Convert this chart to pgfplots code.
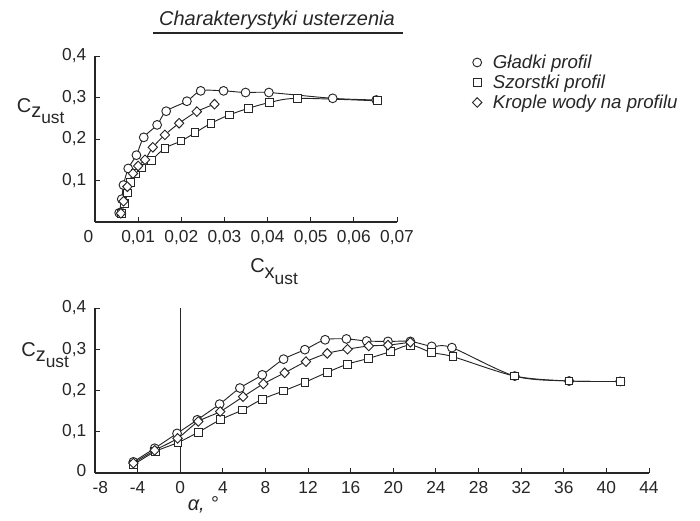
\documentclass[border=0pt]{standalone}
\usepackage{fontspec}
\setmainfont{Liberation Sans}
\usepackage{pgfplots}
\usepackage{pgfplotstable}
\pgfplotsset{compat=1.18}

% --- gorny wykres: Cz ust w funkcji Cx ust ---
\pgfplotstableread{
cx cz
0.0056 0.022
0.0062 0.055
0.0066 0.089
0.0077 0.129
0.0096 0.161
0.0113 0.204
0.0144 0.234
0.0165 0.267
0.0213 0.291
0.0245 0.316
0.0298 0.316
0.0349 0.312
0.0403 0.312
0.0551 0.298
0.0652 0.294
}\topGl
\pgfplotstableread{
cx cz
0.0062 0.020
0.0068 0.045
0.0076 0.070
0.0083 0.095
0.0094 0.117
0.0108 0.130
0.0131 0.149
0.0162 0.178
0.0199 0.195
0.0232 0.215
0.0269 0.238
0.0311 0.258
0.0356 0.274
0.0405 0.288
0.0469 0.298
0.0654 0.292
}\topSz
\pgfplotstableread{
cx cz
0.0060 0.021
0.0066 0.050
0.0075 0.085
0.0088 0.117
0.0100 0.135
0.0116 0.150
0.0134 0.180
0.0162 0.210
0.0195 0.238
0.0236 0.266
0.0277 0.284
}\topKr

% --- dolny wykres: Cz ust w funkcji alfa ---
\pgfplotstableread{
a cz
-4.4 0.027
-2.4 0.060
-0.3 0.096
1.6 0.129
3.7 0.167
5.6 0.206
7.7 0.238
9.7 0.276
11.7 0.299
13.6 0.323
15.6 0.325
17.5 0.320
19.5 0.319
21.6 0.319
23.6 0.307
25.5 0.304
31.4 0.235
36.5 0.223
41.3 0.222
}\botGl
\pgfplotstableread{
a cz
-4.4 0.020
-2.35 0.052
-0.2 0.074
1.7 0.099
3.75 0.129
5.85 0.153
7.7 0.179
9.7 0.199
11.7 0.220
13.8 0.244
15.7 0.264
17.7 0.278
19.7 0.294
21.6 0.310
23.6 0.292
25.6 0.282
31.4 0.235
36.5 0.223
41.3 0.222
}\botSz
\pgfplotstableread{
a cz
-4.4 0.024
-2.4 0.055
-0.25 0.084
1.7 0.125
3.75 0.149
5.9 0.185
7.8 0.216
9.8 0.243
11.8 0.270
13.8 0.290
15.7 0.300
17.7 0.308
19.5 0.310
21.6 0.317
}\botKr

\pgfplotsset{
  rys/.style={
    scale only axis,
    axis x line=bottom, axis y line=left,
    axis line style={-, line width=0.8pt, black!85},
    tick align=inside,
    major tick length=4pt,
    tick style={black!85, line width=0.7pt},
    ticklabel style={font=\fontsize{13}{14}\selectfont, black!85},
    xticklabel style={yshift=-3pt},
    yticklabel style={xshift=-3pt},
    scaled ticks=false,
    clip=false,
  },
  gl/.style={black!85, line width=0.7pt, mark=*, mark size=3.3pt, mark options={solid, fill=white}},
  sz/.style={black!85, line width=0.7pt, mark=square*, mark size=2.9pt, mark options={solid, fill=white}},
  kr/.style={black!85, line width=0.7pt, mark=diamond*, mark size=3.6pt, mark options={solid, fill=white, xscale=1.3}},
}

\begin{document}
\begin{tikzpicture}
\useasboundingbox (0,0) rectangle (525pt,-390.75pt);

\node[anchor=base, font=\itshape\fontsize{15}{16}\selectfont, black!85] at (207.75pt,-18.75pt) {Charakterystyki usterzenia};
\draw[black!85, line width=1pt] (114.75pt,-24.75pt) -- (302.25pt,-24.75pt);

\begin{axis}[rys,
  at={(71.25pt,-166.5pt)}, anchor=south west,
  width=226.5pt, height=124.5pt,
  xmin=0, xmax=0.07, ymin=0, ymax=0.4,
  xtick={0,0.01,0.02,0.03,0.04,0.05,0.06,0.07},
  xticklabels={0\hspace*{10pt},{0,01},{0,02},{0,03},{0,04},{0,05},{0,06},{0,07}},
  ytick={0.1,0.2,0.3,0.4},
  yticklabels={{0,1},{0,2},{0,3},{0,4}},
  xlabel={C\raisebox{-0.5ex}{x}\raisebox{-1.1ex}{\fontsize{13}{14}\selectfont ust}},
  ylabel={C\raisebox{-0.5ex}{z}\raisebox{-1.1ex}{\fontsize{13}{14}\selectfont ust}},
  every axis x label/.style={at={(axis description cs:0.593,-0.30)}, anchor=center, font=\fontsize{15}{16}\selectfont, black!85},
  every axis y label/.style={at={(axis description cs:-0.18,0.669)}, anchor=center, font=\fontsize{15}{16}\selectfont, black!85},
  legend style={draw=none, fill=none, at={(axis description cs:1.238,1.02)}, anchor=north west,
    font=\itshape\fontsize{14}{15}\selectfont, text=black!85, inner sep=0pt, row sep=-1pt,
    nodes={inner sep=1.5pt, text height=10pt, text depth=3pt}},
  legend cell align=left,
  legend image code/.code={\path (0,0) (0.55cm,0); \draw[#1] plot coordinates {(0.2cm,0.03cm)};},
]
\addplot[gl, smooth, tension=0.5, forget plot] table[x=cx, y=cz] {\topGl};
\addplot[sz, smooth, tension=0.5, forget plot] table[x=cx, y=cz] {\topSz};
\addplot[kr, smooth, tension=0.5, forget plot] table[x=cx, y=cz] {\topKr};
\addlegendimage{gl, only marks}
\addlegendentry{Gładki profil}
\addlegendimage{sz, only marks}
\addlegendentry{Szorstki profil}
\addlegendimage{kr, only marks}
\addlegendentry{Krople wody na profilu}
\end{axis}

\begin{axis}[rys,
  at={(71.25pt,-354.75pt)}, anchor=south west,
  width=415.5pt, height=123.75pt,
  xmin=-8, xmax=44, ymin=0, ymax=0.4,
  xtick={-8,-4,0,4,8,12,16,20,24,28,32,36,40,44},
  xticklabels={\hspace*{8pt}-8,-4,0,4,8,12,16,20,24,28,32,36,40,44},
  ytick={0,0.1,0.2,0.3,0.4},
  yticklabels={\raisebox{4pt}{0},{0,1},{0,2},{0,3},{0,4}},
  xlabel={\itshape α, °},
  ylabel={C\raisebox{-0.5ex}{z}\raisebox{-1.1ex}{\fontsize{13}{14}\selectfont ust}},
  every axis x label/.style={at={(axis description cs:0.195,-0.194)}, anchor=center, font=\fontsize{15}{16}\selectfont, black!85},
  every axis y label/.style={at={(axis description cs:-0.09,0.715)}, anchor=center, font=\fontsize{15}{16}\selectfont, black!85},
]
\addplot[black!85, line width=0.8pt, mark=none, forget plot] coordinates {(0,0) (0,0.4)};
\addplot[gl, smooth, tension=0.5] table[x=a, y=cz] {\botGl};
\addplot[sz, smooth, tension=0.5] table[x=a, y=cz] {\botSz};
\addplot[kr, smooth, tension=0.5] table[x=a, y=cz] {\botKr};
\end{axis}
\end{tikzpicture}
\end{document}
